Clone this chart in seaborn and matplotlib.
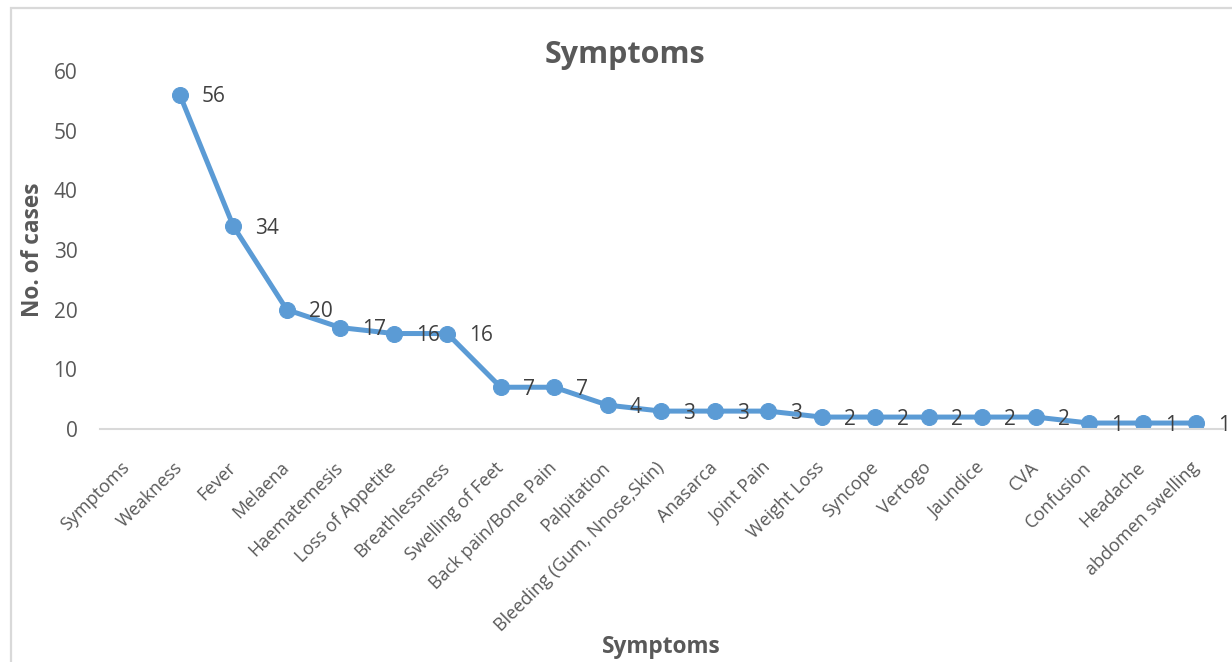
import numpy as np
import matplotlib
matplotlib.use("Agg")
import matplotlib.pyplot as plt
from matplotlib.patches import Rectangle
import seaborn as sns

categories = ["Symptoms", "Weakness", "Fever", "Melaena", "Haematemesis",
              "Loss of Appetite", "Breathlessness", "Swelling of Feet",
              "Back pain/Bone Pain", "Palpitation", "Bleeding (Gum, Nnose,Skin)",
              "Anasarca", "Joint Pain", "Weight Loss", "Syncope", "Vertogo",
              "Jaundice", "CVA", "Confusion", "Headache", "abdomen swelling"]
cases = [np.nan, 56, 34, 20, 17, 16, 16, 7, 7, 4, 3, 3, 3, 2, 2, 2, 2, 2, 1, 1, 1]
y_ticks = [0, 10, 20, 30, 40, 50, 60]

sns.set_theme(style="white")
plt.rcParams["font.family"] = ["Open Sans", "DejaVu Sans"]

W, H = 1232, 662
fig = plt.figure(figsize=(W / 100, H / 100), dpi=100)
fig.patch.set_facecolor("white")

# chart-area frame
fig.patches.append(Rectangle((11 / W, -0.1), 1.5, 1 - 8 / H + 0.1,
                             transform=fig.transFigure, fill=False,
                             edgecolor="#d9d9d9", linewidth=1.6))

left, right = 99.6, 1222.8
top, bottom = 71, 429
ax = fig.add_axes([left / W, 1 - bottom / H, (right - left) / W, (bottom - top) / H])

pos = np.arange(len(categories))
line_color = "#5b9bd5"
sns.lineplot(x=pos, y=cases, ax=ax, color=line_color, linewidth=3.6,
             marker="o", markersize=11.5, markeredgecolor=line_color,
             estimator=None, sort=False)

ax.set_xlim(-0.5, len(categories) - 0.5)
ax.set_ylim(0, 60)
ax.set_yticks(y_ticks)
ax.set_yticklabels([str(t) for t in y_ticks], fontsize=15, color="#595959")
ax.tick_params(axis="y", length=0, pad=16)

ax.set_xticks(pos)
ax.set_xticklabels(categories, rotation=45, ha="right", va="center",
                   rotation_mode="anchor", fontsize=13, color="#595959")
ax.tick_params(axis="x", length=0, pad=26)

for s in ["top", "right", "left"]:
    ax.spines[s].set_visible(False)
ax.spines["bottom"].set_color("#d9d9d9")
ax.spines["bottom"].set_linewidth(1.5)
ax.set_facecolor("none")
ax.grid(False)

# value labels to the right of each point
for x, v in zip(pos, cases):
    if np.isnan(v):
        continue
    ax.annotate(f"{int(v)}", (x, v), xytext=(22, -2), textcoords="offset pixels",
                ha="left", va="center", fontsize=15, color="#404040",
                annotation_clip=False)

ax.set_ylabel("No. of cases", fontsize=16.3, fontweight="bold", color="#595959")
ax.yaxis.set_label_coords((33 - left) / (right - left), 0.5)
ax.yaxis.label.set_va("center")

ax.set_xlabel("Symptoms", fontsize=16.3, fontweight="bold", color="#595959")
ax.xaxis.set_label_coords((661 - left) / (right - left), (bottom - 647) / (bottom - top))
ax.xaxis.label.set_va("center")

fig.text(625 / W, 1 - 55 / H, "Symptoms", ha="center", va="center",
         fontsize=22, fontweight="bold", color="#595959")

fig.savefig("out.png", dpi=100)
